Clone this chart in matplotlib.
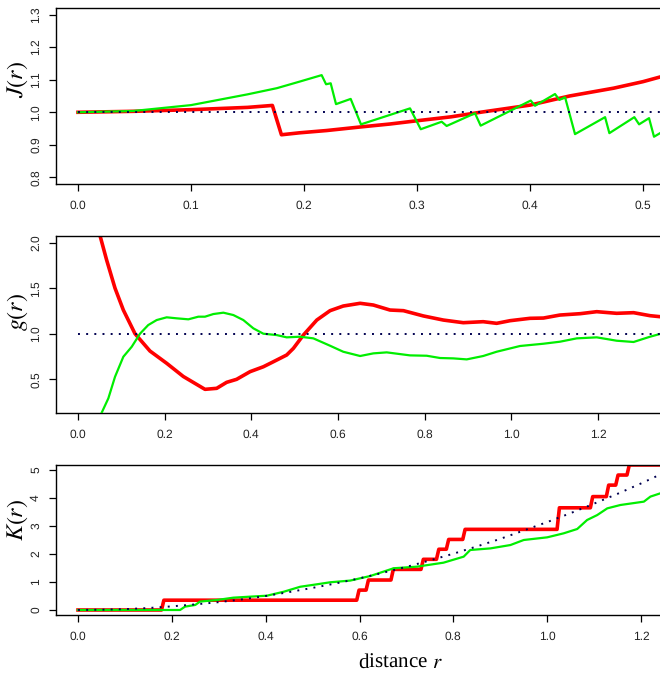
import matplotlib
matplotlib.use("Agg")
import matplotlib.pyplot as plt

plt.rcParams["mathtext.fontset"] = "stix"
plt.rcParams["font.family"] = ["Liberation Sans", "DejaVu Sans"]
plt.rcParams["text.hinting"] = "none"
plt.rcParams["text.hinting_factor"] = 1

# ---- J-function ----
r_J_obs = [0.0, 0.05, 0.10, 0.15, 0.172, 0.180, 0.196, 0.22, 0.25, 0.276, 0.30, 0.33, 0.356, 0.40,
           0.435, 0.474, 0.50, 0.52]
J_obs = [1.000, 1.003, 1.008, 1.015, 1.021, 0.931, 0.937, 0.944, 0.955, 0.964, 0.974, 0.986, 1.000,
         1.022, 1.050, 1.074, 1.094, 1.113]

r_J_sim = [0.0, 0.049, 0.10, 0.15, 0.176, 0.196, 0.2156, 0.2195, 0.2236, 0.2283, 0.2413, 0.2504,
           0.2938, 0.3033, 0.3218, 0.3262, 0.3513, 0.3563, 0.4006, 0.4044, 0.4221, 0.426, 0.431,
           0.4398, 0.4664, 0.4702, 0.4923, 0.4965, 0.5053, 0.5097, 0.52]
J_sim = [1.000, 1.004, 1.022, 1.055, 1.074, 1.094, 1.114, 1.086, 1.089, 1.025, 1.041, 0.963,
         1.012, 0.948, 0.971, 0.958, 0.997, 0.959, 1.036, 1.020, 1.056, 1.038, 1.046,
         0.933, 0.985, 0.936, 0.985, 0.963, 0.982, 0.925, 0.946]

# ---- pair correlation g ----
r_g_obs = [0.045, 0.0508, 0.066, 0.0854, 0.1046, 0.1315, 0.166, 0.2046, 0.243, 0.293, 0.320, 0.343,
           0.366, 0.397, 0.4277, 0.4508, 0.4815, 0.497, 0.52, 0.551, 0.5816, 0.612, 0.651, 0.6815,
           0.72, 0.751, 0.797, 0.843, 0.889, 0.935, 0.966, 0.997, 1.043, 1.074, 1.112, 1.159,
           1.197, 1.243, 1.282, 1.32, 1.343]
g_obs = [2.25, 2.077, 1.81, 1.50, 1.26, 1.00, 0.81, 0.675, 0.53, 0.389, 0.40, 0.466,
         0.499, 0.583, 0.637, 0.692, 0.766, 0.839, 0.985, 1.15, 1.253, 1.304, 1.334, 1.315,
         1.26, 1.253, 1.195, 1.15, 1.121, 1.132, 1.114, 1.143, 1.169, 1.172, 1.205, 1.22,
         1.242, 1.224, 1.231, 1.198, 1.187]

r_g_sim = [0.045, 0.0546, 0.07, 0.0854, 0.1046, 0.124, 0.143, 0.162, 0.1815, 0.2046, 0.2277, 0.2546,
           0.2777, 0.293, 0.3123, 0.3354, 0.3585, 0.3815, 0.4046, 0.4277, 0.4585, 0.4815, 0.5123,
           0.543, 0.5816, 0.612, 0.651, 0.6815, 0.7124, 0.766, 0.8047, 0.8355, 0.866, 0.897,
           0.935, 0.966, 1.02, 1.074, 1.112, 1.151, 1.197, 1.243, 1.282, 1.32, 1.343]
g_sim = [0.03, 0.132, 0.29, 0.527, 0.747, 0.857, 1.0, 1.095, 1.15, 1.18, 1.169, 1.158,
         1.187, 1.187, 1.216, 1.231, 1.205, 1.15, 1.059, 1.0, 0.985, 0.96, 0.967,
         0.949, 0.868, 0.802, 0.755, 0.784, 0.795, 0.762, 0.758, 0.733, 0.729, 0.718,
         0.755, 0.802, 0.865, 0.89, 0.912, 0.949, 0.96, 0.923, 0.909, 0.967, 0.997]

# ---- K-function ----
K_jump_r = [0.178, 0.594, 0.614, 0.667, 0.731, 0.764, 0.785, 0.820, 1.021, 1.092, 1.126, 1.146, 1.170]
K_levels = [0.0, 0.35, 0.71, 1.07, 1.45, 1.81, 2.17, 2.52, 2.88, 3.65, 4.05, 4.46, 4.82, 5.18]

r_K_sim = [0.0, 0.2176, 0.228, 0.25, 0.26, 0.296, 0.331, 0.367, 0.4025, 0.438, 0.4736, 0.509,
           0.5376, 0.58, 0.623, 0.6727, 0.7225, 0.779, 0.822, 0.836, 0.879, 0.9216, 0.95,
           1.0, 1.035, 1.064, 1.085, 1.1065, 1.128, 1.156, 1.206, 1.22, 1.2416]
K_sim = [0.0, 0.0, 0.12, 0.18, 0.30, 0.357, 0.44, 0.476, 0.51, 0.65, 0.83, 0.917,
         0.99, 1.05, 1.214, 1.49, 1.548, 1.69, 1.905, 2.143, 2.2, 2.32, 2.5,
         2.595, 2.738, 2.893, 3.214, 3.39, 3.63, 3.75, 3.87, 4.05, 4.17]

r_K_pois = [0.0, 0.05, 0.10, 0.15, 0.20, 0.25, 0.30, 0.35, 0.40, 0.45, 0.50, 0.55, 0.60,
            0.65, 0.70, 0.75, 0.80, 0.85, 0.90, 0.95, 1.00, 1.05, 1.10, 1.15, 1.20, 1.25]
K_pois = [0.0, 0.01, 0.03, 0.07, 0.13, 0.20, 0.28, 0.38, 0.50, 0.64, 0.79, 0.95, 1.13,
          1.33, 1.54, 1.77, 2.01, 2.27, 2.54, 2.84, 3.14, 3.46, 3.80, 4.15, 4.52, 4.91]

J_ticks = [0.8, 0.9, 1.0, 1.1, 1.2, 1.3]
J_xticks = [0.0, 0.1, 0.2, 0.3, 0.4, 0.5]
g_ticks = [0.5, 1.0, 1.5, 2.0]
K_ticks = [0, 1, 2, 3, 4, 5]
gK_xticks = [0.0, 0.2, 0.4, 0.6, 0.8, 1.0, 1.2]

RED = "#ff0000"
GREEN = "#00ee00"
DOT = "#000050"
LW_RED = 2.6
LW_GREEN = 1.6

W, H = 660, 677
fig = plt.figure(figsize=(W / 100, H / 100), dpi=100)


def px_axes(top, bottom, left=56, right=660):
    return fig.add_axes([left / W, 1 - bottom / H, (right - left) / W, (bottom - top) / H])


def style(ax, xticks, yticks, xfmt, yfmt):
    for side in ("left", "top", "bottom"):
        ax.spines[side].set_linewidth(1.0)
        ax.spines[side].set_color("black")
    ax.spines["right"].set_visible(False)
    ax.set_xticks(xticks)
    ax.set_xticklabels([xfmt.format(v) for v in xticks])
    ax.set_yticks(yticks)
    ax.set_yticklabels([yfmt.format(v) for v in yticks], rotation=90, va="center")
    ax.tick_params(direction="out", length=5, width=0.9, labelsize=8.5, colors="black",
                   labelcolor="#222222")
    ax.tick_params(axis="x", pad=6.5)
    ax.tick_params(axis="y", pad=5.5)


def unit_line(ax, x0, x1):
    ax.plot([x0, x1], [1.0, 1.0], color=DOT, lw=1.4, linestyle=(0, (1, 3.2)), zorder=4)


# J(r)
ax1 = px_axes(8, 184.3)
ax1.plot(r_J_obs, J_obs, color=RED, lw=LW_RED, zorder=2)
ax1.plot(r_J_sim, J_sim, color=GREEN, lw=LW_GREEN, zorder=3)
unit_line(ax1, 0.0, 0.52)
ax1.set_xlim(-0.01947, 0.5150)
ax1.set_ylim(0.779, 1.320)
style(ax1, J_xticks, J_ticks, "{:.1f}", "{:.1f}")

# g(r)
ax2 = px_axes(236.3, 413)
ax2.plot(r_g_obs, g_obs, color=RED, lw=LW_RED, zorder=2)
ax2.plot(r_g_sim, g_sim, color=GREEN, lw=LW_GREEN, zorder=3)
unit_line(ax2, 0.0, 1.36)
ax2.set_xlim(-0.0508, 1.343)
ax2.set_ylim(0.129, 2.070)
style(ax2, gK_xticks, g_ticks, "{:.1f}", "{:.1f}")

# K(r): observed step function with short sloped risers
kx, ky = [0.0], [K_levels[0]]
for rj, lo, hi in zip(K_jump_r, K_levels[:-1], K_levels[1:]):
    kx += [rj, rj + 0.005]
    ky += [lo, hi]
kx.append(1.26)
ky.append(K_levels[-1])

ax3 = px_axes(465.3, 615)
ax3.plot(kx, ky, color=RED, lw=LW_RED, zorder=2)
ax3.plot(r_K_sim, K_sim, color=GREEN, lw=LW_GREEN, zorder=3)
ax3.plot(r_K_pois, K_pois, color=DOT, lw=1.4, linestyle=(0, (1, 3.2)), zorder=4)
ax3.set_xlim(-0.0469, 1.2404)
ax3.set_ylim(-0.179, 5.168)
style(ax3, gK_xticks, K_ticks, "{:.1f}", "{:d}")

# axis titles
fig.text(18 / W, 1 - 80 / H, r"$J(r)$", rotation=90, ha="center", va="center", fontsize=17.5)
fig.text(18 / W, 1 - 312 / H, r"$g(r)$", rotation=90, ha="center", va="center", fontsize=17.5)
fig.text(18 / W, 1 - 520 / H, r"$K(r)$", rotation=90, ha="center", va="center", fontsize=17.5)
fig.text(400 / W, 1 - 663 / H, r"distance $r$", ha="center", va="center", fontsize=15,
         family="Liberation Serif")

fig.savefig("out.png", dpi=100)
